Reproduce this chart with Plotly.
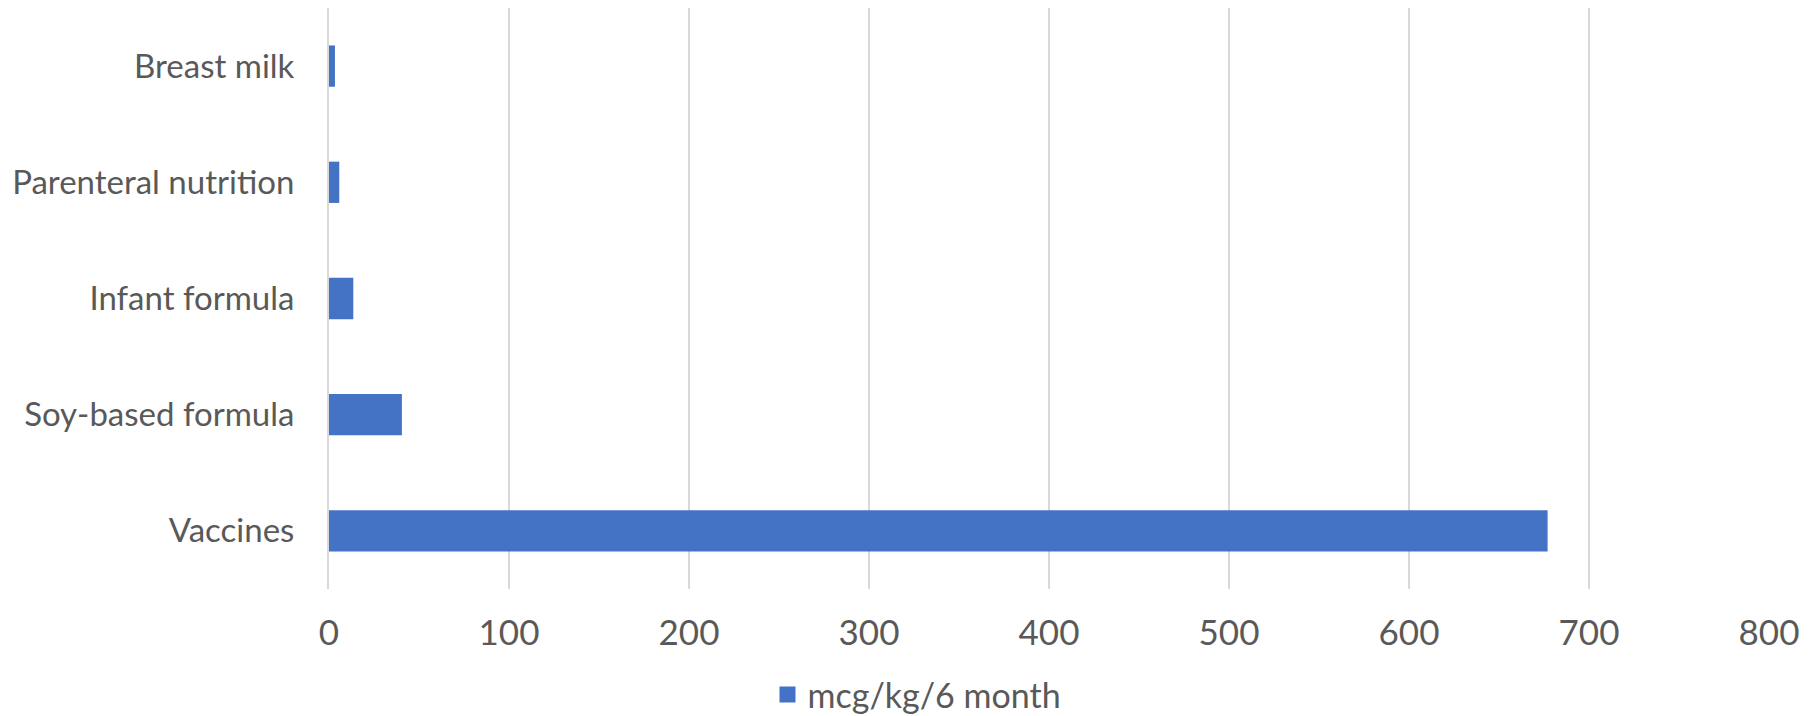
import plotly.graph_objects as go

categories = ["Vaccines", "Soy-based formula", "Infant formula", "Parenteral nutrition", "Breast milk"]
values = [677, 40.5, 13.5, 5.7, 3.3]
series_name = "mcg/kg/6 month"
x_ticks = [0, 100, 200, 300, 400, 500, 600, 700, 800]

FONT = "Lato"
TXT = "#595959"
BLUE = "#4472C4"

fig = go.Figure()
fig.add_trace(go.Bar(
    y=categories, x=values, orientation="h", name=series_name,
    marker=dict(color=BLUE, line=dict(width=0)),
    width=0.355, showlegend=False,
))
# legend-only entry with a larger square swatch
fig.add_trace(go.Scatter(
    x=[None], y=[None], mode="markers", name=series_name,
    marker=dict(symbol="square", size=20, color=BLUE), showlegend=True,
))

fig.update_layout(
    width=1818, height=716,
    margin=dict(l=321, r=57, t=0, b=135, autoexpand=False),
    plot_bgcolor="white", paper_bgcolor="white",
    font=dict(family=FONT, size=33, color=TXT),
    showlegend=True,
    legend=dict(orientation="h", xref="container", yref="container",
                x=0.5, xanchor="center", y=0.0, yanchor="bottom",
                font=dict(size=34, color=TXT), itemwidth=30,
                bgcolor="rgba(0,0,0,0)"),
)
fig.update_xaxes(range=[0, 800], tickvals=x_ticks, showgrid=True, gridcolor="#d9d9d9",
                 gridwidth=2, zeroline=False, showline=False, ticks="",
                 ticklabelstandoff=20, tickfont=dict(size=35, color=TXT))
fig.update_yaxes(showgrid=False, zeroline=False, showline=True, linecolor="#d9d9d9",
                 linewidth=2, ticks="", ticklabelstandoff=26,
                 categoryorder="array", categoryarray=categories,
                 tickfont=dict(size=33, color=TXT))

fig.write_html("out.html")
